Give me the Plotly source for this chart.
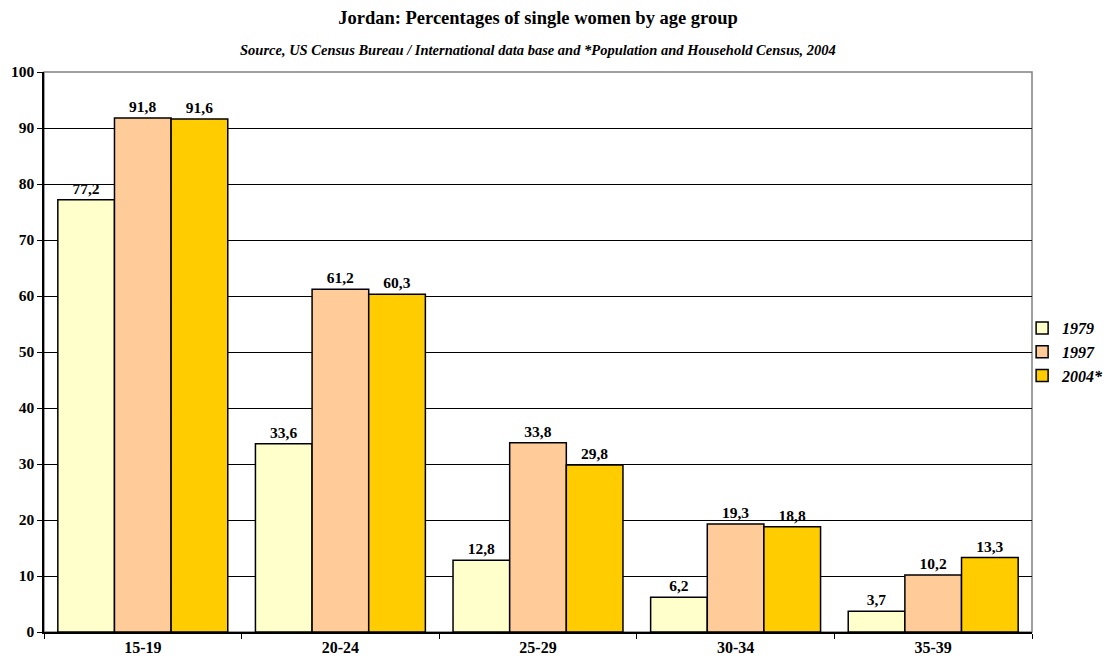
import plotly.graph_objects as go

age_groups = ["15-19", "20-24", "25-29", "30-34", "35-39"]
series_names = ["1979", "1997", "2004*"]
values_1979 = [77.2, 33.6, 12.8, 6.2, 3.7]
values_1997 = [91.8, 61.2, 33.8, 19.3, 10.2]
values_2004 = [91.6, 60.3, 29.8, 18.8, 13.3]
colors = ["#FFFFCC", "#FFCC99", "#FFCC00"]

font_family = "Liberation Serif, Times New Roman, serif"

fig = go.Figure()
for name, vals, col in zip(series_names, [values_1979, values_1997, values_2004], colors):
    fig.add_trace(go.Bar(
        x=age_groups, y=vals, name=name,
        marker=dict(color=col, line=dict(color="black", width=1.5)),
        text=[f"{v:.1f}".replace(".", ",") for v in vals],
        textposition="outside",
        textfont=dict(family=font_family, size=15.5, color="black", weight="bold"),
        cliponaxis=False,
    ))

fig.update_layout(
    width=1108, height=666,
    margin=dict(l=44, r=76, t=72, b=34, autoexpand=False),
    plot_bgcolor="white", paper_bgcolor="white",
    barmode="group", bargap=0.14, bargroupgap=0,
    font=dict(family=font_family, color="black"),
    title=dict(
        text="<b>Jordan: Percentages of single women by age group</b>",
        x=0.5, xanchor="center", xref="paper",
        y=1 - 18 / 666, yanchor="middle", yref="container",
        font=dict(size=18.5, family=font_family, color="black"),
    ),
    showlegend=True,
    legend=dict(
        x=0.99, xanchor="left", y=0.5, yanchor="middle",
        font=dict(size=16, family=font_family, color="black", style="italic", weight="bold"),
        tracegroupgap=0, itemwidth=30,
        bgcolor="rgba(0,0,0,0)",
    ),
    xaxis=dict(
        showline=True, linecolor="black", linewidth=1.5,
        ticks="outside", tickson="boundaries", ticklen=5, tickcolor="black",
        tickfont=dict(size=16, family=font_family, color="black", weight="bold"),
        showgrid=False,
    ),
    yaxis=dict(
        range=[0, 100], dtick=10,
        showline=True, linecolor="black", linewidth=1.5,
        ticks="outside", ticklen=5, tickcolor="black",
        tickfont=dict(size=15.5, family=font_family, color="black", weight="bold"),
        showgrid=True, gridcolor="black", gridwidth=1,
        zeroline=False,
    ),
)

fig.add_annotation(
    text="<b><i>Source, US Census Bureau / International data base and *Population and Household Census, 2004</i></b>",
    xref="paper", yref="paper", x=0.5, y=1 + 22 / 560, xanchor="center", yanchor="middle",
    showarrow=False, font=dict(size=14.5, family=font_family, color="black"),
)

# grey frame around the plotting area
fig.add_shape(type="rect", xref="paper", yref="paper", x0=0, y0=0, x1=1, y1=1,
              line=dict(color="#808080", width=1.5), layer="below")

fig.write_html("out.html")
